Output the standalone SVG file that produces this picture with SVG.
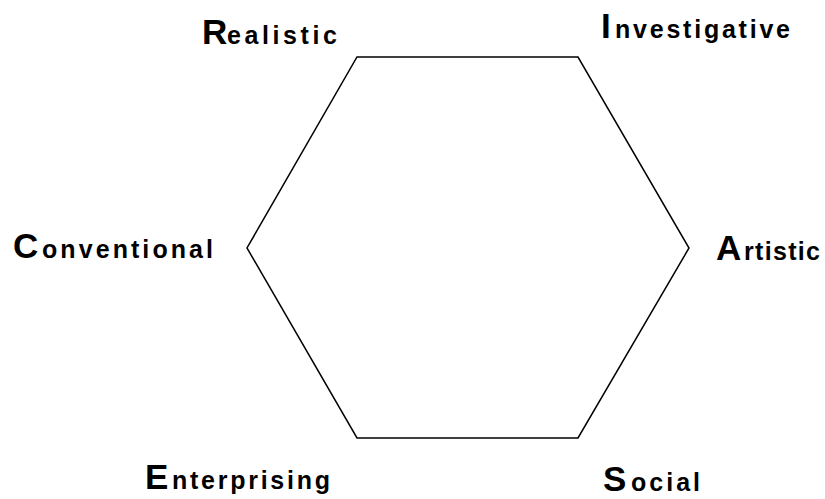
<svg xmlns="http://www.w3.org/2000/svg" width="825" height="499" viewBox="0 0 825 499">
<style>
text{font-family:"Liberation Sans",Arial,sans-serif;font-weight:bold;fill:#000}
.cap{font-size:35px}
.low{font-size:25px}
.edge{fill:none;stroke:#000;stroke-width:1.5}
</style>
<rect width="825" height="499" fill="#fff"/>
<g id="connectors">
<polygon class="edge" points="357,57 578,57 689,248 578,438 357,438 247,248"/>
</g>
<g id="node-realistic"><text><tspan class="cap" x="202" y="44">R</tspan><tspan class="low" x="227" y="44" textLength="110" lengthAdjust="spacing">ealistic</tspan></text></g>
<g id="node-investigative"><text><tspan class="cap" x="601" y="38">I</tspan><tspan class="low" x="615" y="38" textLength="175" lengthAdjust="spacing">nvestigative</tspan></text></g>
<g id="node-conventional"><text><tspan class="cap" x="13" y="258">C</tspan><tspan class="low" x="42" y="258" textLength="171" lengthAdjust="spacing">onventional</tspan></text></g>
<g id="node-artistic"><text><tspan class="cap" x="716" y="260">A</tspan><tspan class="low" x="744" y="260" textLength="76" lengthAdjust="spacing">rtistic</tspan></text></g>
<g id="node-enterprising"><text><tspan class="cap" x="145" y="489">E</tspan><tspan class="low" x="172" y="489" textLength="158" lengthAdjust="spacing">nterprising</tspan></text></g>
<g id="node-social"><text><tspan class="cap" x="603" y="491">S</tspan><tspan class="low" x="631" y="491" textLength="69" lengthAdjust="spacing">ocial</tspan></text></g>
</svg>
